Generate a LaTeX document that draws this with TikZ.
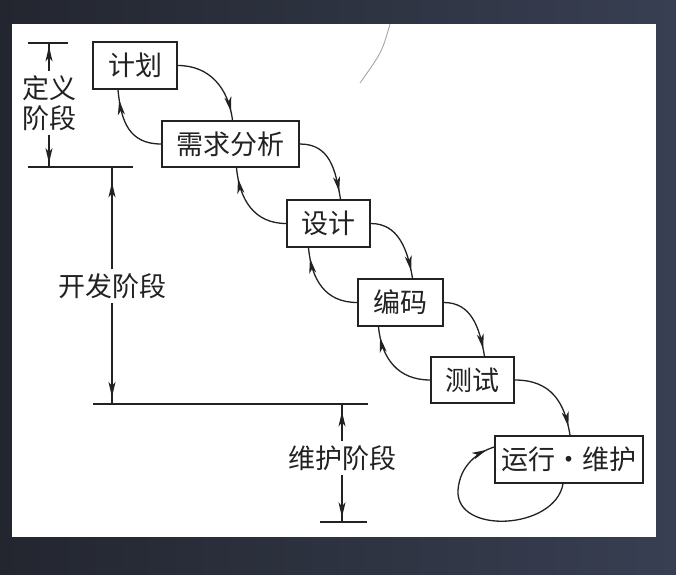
\documentclass[tikz,border=0pt]{standalone}
\usepackage{fontspec}
\newfontfamily\cjk{Noto Sans CJK SC}
\usetikzlibrary{arrows.meta,decorations.markings}
\definecolor{bgleft}{HTML}{23262F}
\definecolor{bgright}{HTML}{383F52}
\definecolor{ink}{HTML}{222222}
\begin{document}
\begin{tikzpicture}[x=1pt,y=-1pt,
  stage/.style={draw=ink, line width=1.6pt, inner sep=0pt, font=\cjk\fontsize{27}{30}\selectfont, text=ink},
  phase/.style={font=\cjk\fontsize{27}{30}\selectfont, text=ink, align=center, inner xsep=0pt, inner ysep=4pt},
  flowarr/.style={draw=ink, line width=1.3pt, postaction={decorate, decoration={markings, mark=at position #1 with {\arrow{Stealth[length=15pt,width=7pt,inset=4pt]}}}}},
  divider/.style={draw=ink, line width=1.4pt}]
\useasboundingbox (0,0) rectangle (676,574);
\shade[left color=bgleft, right color=bgright] (0,0) rectangle (676,574);
\fill[white] (12,24) rectangle (656,537);
% stray scan mark
\draw[gray!70, line width=0.9pt] (390,24) .. controls (382,52) .. (360,83);
% stage boxes
\node[stage, minimum width=84pt, minimum height=47pt] (jh) at (135,65.5) {计划};
\node[stage, minimum width=137pt, minimum height=46pt] (xq) at (230.5,144) {需求分析};
\node[stage, minimum width=83pt, minimum height=47pt] (sj) at (328.5,223.5) {设计};
\node[stage, minimum width=85pt, minimum height=47pt] (bm) at (400.5,302.5) {编码};
\node[stage, minimum width=83pt, minimum height=46pt] (cs) at (472.5,380) {测试};
\node[stage, minimum width=148pt, minimum height=47pt] (yx) at (569,459.5) {运行\makebox[1em]{·}维护};
% forward flow
\draw[flowarr=0.9] (jh.east) .. controls +(32,0) and +(-4,-32) .. ([xshift=2pt]xq.north);
\draw[flowarr=0.9] (xq.east) .. controls +(30,0) and +(-5,-30) .. ([xshift=12pt]sj.north);
\draw[flowarr=0.9] (sj.east) .. controls +(27,0) and +(-5,-30) .. ([xshift=12pt]bm.north);
\draw[flowarr=0.9] (bm.east) .. controls +(27,0) and +(-5,-30) .. ([xshift=12pt]cs.north);
\draw[flowarr=0.9] (cs.east) .. controls +(37,0) and +(-5,-32) .. ([xshift=1pt]yx.north);
% feedback
\draw[flowarr=0.87] (xq.west) .. controls +(-32,0) and +(3,32) .. ([xshift=-17pt]jh.south);
\draw[flowarr=0.87] (sj.west) .. controls +(-32,0) and +(3,32) .. ([xshift=6pt]xq.south);
\draw[flowarr=0.87] (bm.west) .. controls +(-32,0) and +(3,32) .. ([xshift=-20pt]sj.south);
\draw[flowarr=0.87] (cs.west) .. controls +(-32,0) and +(3,32) .. ([xshift=-22pt]bm.south);
% self loop
\coordinate (loopL) at (458,490);
\draw[flowarr=0.96] ([xshift=-6pt]yx.south) .. controls (555,530) and (455,535) .. (loopL)
   .. controls (460,465) and (478,452) .. ([yshift=12.5pt]yx.west);
% phase dividers
\coordinate (t1) at (28,43);  \coordinate (t2) at (68,43);
\coordinate (l2a) at (28,167); \coordinate (l2b) at (133,167);
\coordinate (l3a) at (93,404); \coordinate (l3b) at (368,404);
\coordinate (l4a) at (320,522); \coordinate (l4b) at (367,522);
\draw[divider] (t1) -- (t2);
\draw[divider] (l2a) -- (l2b);
\draw[divider] (l3a) -- (l3b);
\draw[divider] (l4a) -- (l4b);
% phase labels
\node[phase] (dy) at (49,103) {定义\\阶段};
\node[phase] (kf) at (112,286) {开发阶段};
\node[phase] (wh) at (342,458) {维护阶段};
\draw[flowarr=0.88] (dy.north) -- (dy.north |- t1);
\draw[flowarr=0.88] (dy.south) -- (dy.south |- l2a);
\draw[flowarr=0.85] (kf.north) -- (kf.north |- l2a);
\draw[flowarr=0.93] (kf.south) -- (kf.south |- l3a);
\draw[flowarr=0.8] (wh.north) -- (wh.north |- l3a);
\draw[flowarr=0.9] (wh.south) -- (wh.south |- l4a);
\end{tikzpicture}
\end{document}
